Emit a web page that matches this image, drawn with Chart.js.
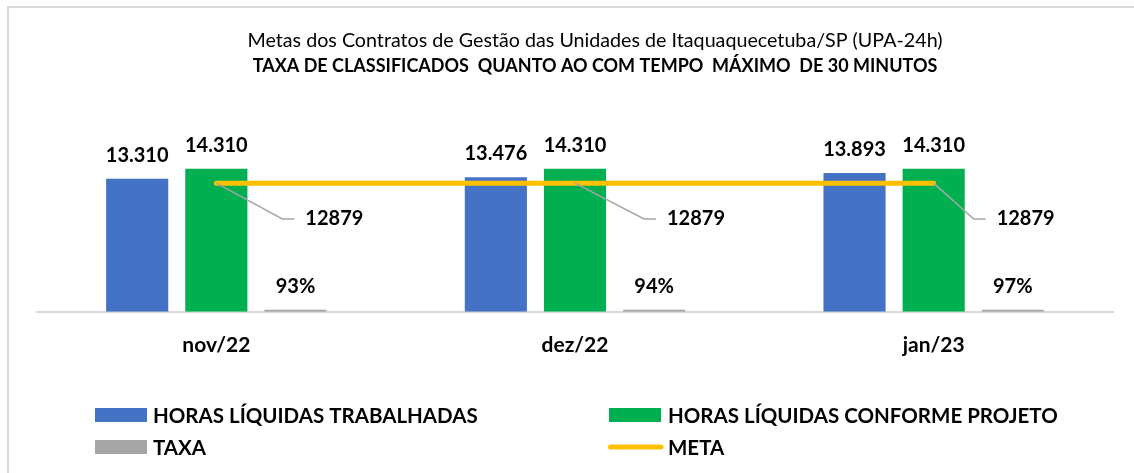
<!DOCTYPE html>
<html>
<head>
<meta charset="utf-8">
<script src="https://cdn.jsdelivr.net/npm/chart.js@4.4.0/dist/chart.umd.min.js"></script>
<style>
  html, body { margin: 0; padding: 0; background: #ffffff; }
  #wrap { position: relative; width: 1134px; height: 473px; }
  canvas { display: block; }
</style>
</head>
<body>
<div id="wrap"><canvas id="c" width="1134" height="473"></canvas></div>
<script>
// ---- data ----
const categories = ['nov/22', 'dez/22', 'jan/23'];
const horasTrabalhadas = [13310, 13476, 13893];
const horasProjeto = [14310, 14310, 14310];
const taxa = [0.93, 0.94, 0.97];
const meta = [12879, 12879, 12879];
const seriesNames = ['HORAS LÍQUIDAS TRABALHADAS', 'HORAS LÍQUIDAS CONFORME PROJETO', 'TAXA', 'META'];
const titleLine1 = 'Metas dos Contratos de Gestão das Unidades de Itaquaquecetuba/SP (UPA-24h)';
const titleLine2 = 'TAXA DE CLASSIFICADOS  QUANTO AO COM TEMPO  MÁXIMO  DE 30 MINUTOS';

const FONT = 'Lato';
function fmtThousands(v) {
  return String(Math.round(v)).replace(/\B(?=(\d{3})+(?!\d))/g, '.');
}

// frame border + titles (chart is cropped on the right, so titles center right of canvas middle)
const framePlugin = {
  id: 'frame',
  beforeDraw(chart) {
    const ctx = chart.ctx;
    ctx.save();
    ctx.strokeStyle = '#d9d9d9';
    ctx.lineWidth = 2;
    ctx.beginPath();
    ctx.moveTo(8, 473);
    ctx.lineTo(8, 7);
    ctx.lineTo(1134, 7);
    ctx.stroke();
    ctx.restore();
  },
  afterDraw(chart, args, opts) {
    const ctx = chart.ctx;
    ctx.save();
    ctx.fillStyle = '#000000';
    ctx.textAlign = 'center';
    ctx.textBaseline = 'middle';
    ctx.font = 'normal 19.7px ' + FONT;
    ctx.fillText(opts.line1, opts.cx, 40.7);
    ctx.font = 'bold 18px ' + FONT;
    ctx.fillText(opts.line2, opts.cx, 66.2);
    ctx.restore();
  }
};

// data labels + leader lines
const labelsPlugin = {
  id: 'valueLabels',
  afterDatasetsDraw(chart, args, opts) {
    const ctx = chart.ctx;
    ctx.save();
    ctx.fillStyle = '#000000';
    ctx.font = 'bold 20px ' + FONT;
    ctx.textBaseline = 'alphabetic';
    chart.data.datasets.forEach((ds, di) => {
      const meta = chart.getDatasetMeta(di);
      if (ds.type === 'line') {
        meta.data.forEach((pt, i) => {
          const lx = pt.x + opts.leaderDx[i];
          const ly = opts.leaderY;
          ctx.strokeStyle = '#a6a6a6';
          ctx.lineWidth = 1.5;
          ctx.beginPath();
          ctx.moveTo(pt.x, pt.y);
          ctx.lineTo(lx - 23, ly + 1);
          ctx.lineTo(lx - 11, ly + 1);
          ctx.stroke();
          ctx.textAlign = 'left';
          ctx.fillText(String(ds.data[i]), lx, ly + 7);
        });
      } else {
        meta.data.forEach((bar, i) => {
          const v = ds.data[i];
          const txt = ds.isPercent ? Math.round(v * 100) + '%' : fmtThousands(v);
          ctx.textAlign = 'center';
          ctx.fillText(txt, bar.x, Math.min(bar.y, bar.base - 2) - 17);
        });
      }
    });
    ctx.restore();
  }
};

// custom 2-column legend
const legendPlugin = {
  id: 'gridLegend',
  afterDraw(chart) {
    const ctx = chart.ctx;
    const swX = [95, 609];
    const txX = [153, 668];
    const rows = [415, 447];
    ctx.save();
    ctx.font = 'bold 20.5px ' + FONT;
    ctx.textBaseline = 'alphabetic';
    ctx.textAlign = 'left';
    chart.data.datasets.forEach((ds, di) => {
      const c = di % 2;
      const y = rows[Math.floor(di / 2)];
      const x = swX[c];
      if (ds.type === 'line') {
        ctx.strokeStyle = ds.borderColor;
        ctx.lineWidth = 5;
        ctx.lineCap = 'round';
        ctx.beginPath();
        ctx.moveTo(x + 1.5, y);
        ctx.lineTo(x + 52, y);
        ctx.stroke();
      } else {
        ctx.fillStyle = ds.backgroundColor;
        ctx.fillRect(x, y - 7, 52, 14);
      }
      ctx.fillStyle = '#000000';
      ctx.fillText(ds.label, txX[c], y + 7.5);
    });
    ctx.restore();
  }
};

new Chart(document.getElementById('c'), {
  data: {
    labels: categories,
    datasets: [
      { type: 'bar', label: seriesNames[0], data: horasTrabalhadas, backgroundColor: '#4472C4', order: 1 },
      { type: 'bar', label: seriesNames[1], data: horasProjeto, backgroundColor: '#00B050', order: 1 },
      { type: 'bar', label: seriesNames[2], data: taxa, backgroundColor: '#A5A5A5', order: 1, minBarLength: 2, isPercent: true },
      { type: 'line', label: seriesNames[3], data: meta, borderColor: '#FFC000', backgroundColor: '#FFC000',
        borderWidth: 5, borderCapStyle: 'round', pointRadius: 0, order: 0 }
    ]
  },
  options: {
    responsive: false,
    animation: false,
    events: [],
    datasets: { bar: { categoryPercentage: 0.662, barPercentage: 0.785 } },
    layout: { padding: { left: 37, right: 21, top: 92, bottom: 94 } },
    scales: {
      x: {
        grid: { display: false, drawTicks: false },
        border: { display: true, color: '#d9d9d9', width: 2 },
        ticks: { color: '#000000', font: { family: FONT, size: 21, weight: 'bold' }, padding: 21 }
      },
      y: { display: false, min: 0, max: 22000 }
    },
    plugins: {
      legend: { display: false },
      tooltip: { enabled: false },
      title: { display: false },
      frame: { line1: titleLine1, line2: titleLine2, cx: 595 },
      valueLabels: { leaderDx: [89, 92, 63], leaderY: 218 }
    }
  },
  plugins: [framePlugin, labelsPlugin, legendPlugin]
});
</script>
</body>
</html>
